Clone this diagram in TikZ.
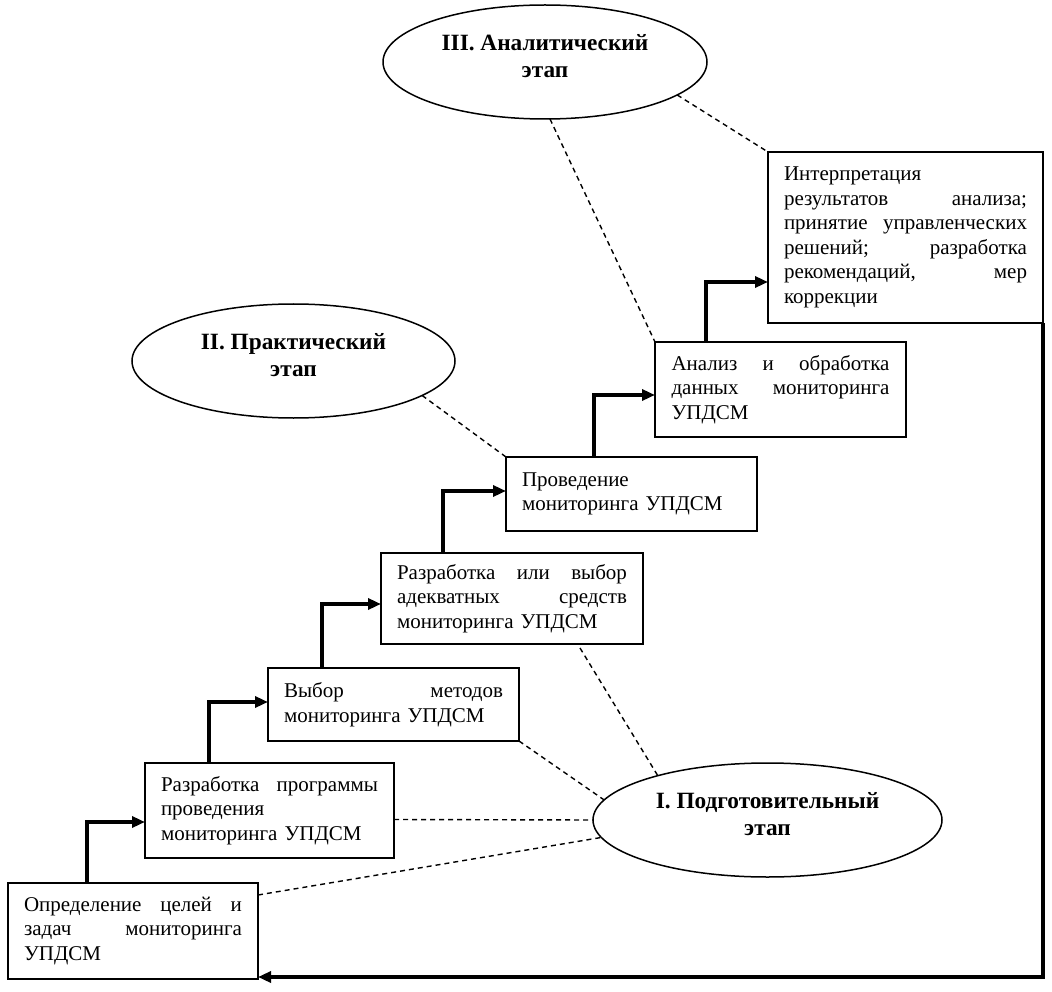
\documentclass[tikz,border=0pt]{standalone}
\usepackage{fontspec}
\setmainfont{Liberation Serif}
\usetikzlibrary{shapes.geometric,arrows.meta}
\newcommand{\jl}[1]{\makebox[\hsize][s]{#1}}
\newcommand{\etxt}[1]{\raisebox{3pt}[\height][\depth]{\begin{tabular}{@{}c@{}}#1\end{tabular}}}
\tikzset{
  box/.style={draw, line width=2.2pt, rectangle, inner sep=0pt, outer sep=0pt,
    anchor=north west, align=left, font=\fontsize{21}{24.5}\selectfont},
  stage/.style={draw, line width=1.5pt, ellipse, inner sep=0pt, outer sep=0pt,
    minimum height=114pt, font=\bfseries\fontsize{23.3}{27}\selectfont},
  arr/.style={line width=3.4pt, -{Triangle[length=13pt,width=11pt]}},
  dsh/.style={line width=1.4pt, dash pattern=on 5pt off 4pt}
}
\begin{document}
\begin{tikzpicture}[x=1pt,y=-1pt]
\useasboundingbox (0,0) rectangle (1052,992);
% boxes
\node[box, minimum width=250pt, minimum height=96pt, text width=218pt] (b1) at (8,883)
  {\jl{Определение\hfill целей\hfill и}\\\jl{задач\hfill мониторинга}\\УПДСМ};
\node[box, minimum width=249pt, minimum height=95pt, text width=217pt] (b2) at (145,763)
  {\jl{Разработка\hfill программы}\\проведения\\мониторинга УПДСМ};
\node[box, minimum width=251pt, minimum height=73pt, text width=219pt] (b3) at (268,668)
  {\jl{Выбор\hfill методов}\\мониторинга УПДСМ};
\node[box, minimum width=262pt, minimum height=91pt, text width=230pt] (b4) at (381,553)
  {\jl{Разработка\hfill или\hfill выбор}\\\jl{адекватных\hfill средств}\\мониторинга УПДСМ};
\node[box, minimum width=251pt, minimum height=74pt, text width=219pt] (b5) at (506,457)
  {Проведение\\мониторинга УПДСМ};
\node[box, minimum width=251pt, minimum height=95pt, text width=218pt] (b6) at (655,342)
  {\jl{Анализ\hfill и\hfill обработка}\\\jl{данных\hfill мониторинга}\\УПДСМ};
\node[box, minimum width=275pt, minimum height=171pt, text width=243pt] (b7) at (768,152)
  {Интерпретация\\\jl{результатов\hfill анализа;}\\\jl{принятие\hfill управленческих}\\\jl{решений;\hfill разработка}\\\jl{рекомендаций,\hfill мер}\\коррекции};
% stages
\node[stage, minimum width=324pt] (e3) at (545,62) {\etxt{III. Аналитический\\этап}};
\node[stage, minimum width=323pt] (e2) at (293.5,361) {\etxt{II. Практический\\этап}};
\node[stage, minimum width=349pt] (e1) at (767.5,820) {\etxt{I. Подготовительный\\этап}};
% arrows
\draw[arr] ([xshift=79pt]b1.north west) |- ([yshift=-59pt]b2.north west);
\draw[arr] ([xshift=64pt]b2.north west) |- ([yshift=-34pt]b3.north west);
\draw[arr] ([xshift=54pt]b3.north west) |- ([yshift=-51pt]b4.north west);
\draw[arr] ([xshift=62pt]b4.north west) |- ([yshift=-34pt]b5.north west);
\draw[arr] ([xshift=88pt]b5.north west) |- ([yshift=-53pt]b6.north west);
\draw[arr] ([xshift=51pt]b6.north west) |- ([yshift=-130pt]b7.north west);
\draw[arr] (b7.south east) |- ([yshift=2pt]b1.south east);
% dashed links
\draw[dsh] (e3.-14) -- (b7.north west);
\draw[dsh] ([xshift=5pt]e3.south) -- (b6.north west);
\draw[dsh] (e2.-15) -- (b5.north west);
\draw[dsh] ([xshift=199pt,yshift=-4pt]b4.south west) -- (e1.158);
\draw[dsh] (b3.south east) -- (e1.173);
\draw[dsh] ([yshift=-9pt]b2.east) -- (e1.west);
\draw[dsh] ([yshift=-12pt]b1.north east) -- (e1.186);
\end{tikzpicture}
\end{document}
